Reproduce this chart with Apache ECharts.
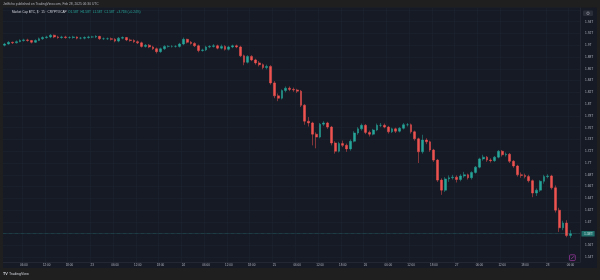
<!DOCTYPE html>
<html>
<head>
<meta charset="utf-8">
<title>Market Cap BTC</title>
<script src="https://cdn.jsdelivr.net/npm/echarts@6/dist/echarts.min.js"></script>
<style>
    html, body { margin: 0; padding: 0; background: #1f1f1f; }
    #main { width: 600px; height: 280px; }
</style>
</head>
<body>
<div id="main"></div>
<script>
// 1h candles, Feb 22 01:00 UTC -> Feb 28 06:00 UTC, values in billions USD
var startTime = Date.UTC(2025, 1, 22, 1);
var firstOpen = 1900;

var closes = [
    1902, 1905, 1904, 1906, 1908, 1909, 1908, 1905, 1908, 1911,
    1913, 1914, 1917, 1914, 1913, 1914, 1913, 1913, 1914, 1912,
    1912, 1913, 1914, 1914, 1915, 1911, 1911, 1911, 1910, 1907,
    1912, 1913, 1909, 1908, 1906, 1904, 1898, 1900, 1897, 1894,
    1889, 1894, 1898, 1898, 1898, 1898, 1902, 1910, 1905, 1903,
    1899, 1891, 1892, 1897, 1898, 1899, 1895, 1898, 1893, 1897,
    1899, 1897, 1882, 1871, 1881, 1875, 1870, 1867, 1862, 1864,
    1836, 1814, 1810, 1823, 1827, 1825, 1824, 1822, 1798, 1771,
    1768, 1749, 1744, 1766, 1768, 1761, 1734, 1720, 1733, 1730,
    1724, 1737, 1751, 1758, 1764, 1752, 1749, 1756, 1764, 1764,
    1761, 1753, 1758, 1754, 1759, 1765, 1765, 1753, 1741, 1719,
    1739, 1736, 1722, 1705, 1671, 1654, 1673, 1675, 1676, 1672,
    1678, 1680, 1675, 1684, 1693, 1707, 1710, 1705, 1704, 1710,
    1720, 1714, 1715, 1703, 1695, 1680, 1679, 1677, 1670, 1649,
    1654, 1669, 1677, 1678, 1658, 1620, 1590, 1598, 1577, 1580
];
var highs = [
    1904, 1907, 1906, 1908, 1910, 1911, 1911, 1909, 1910, 1913,
    1915, 1916, 1919, 1918, 1916, 1916, 1916, 1915, 1916, 1915,
    1914, 1915, 1916, 1916, 1917, 1916, 1913, 1913, 1913, 1912,
    1914, 1915, 1914, 1911, 1910, 1908, 1906, 1902, 1902, 1899,
    1896, 1896, 1900, 1900, 1900, 1900, 1904, 1913, 1911, 1907,
    1905, 1901, 1894, 1899, 1900, 1902, 1901, 1901, 1900, 1899,
    1901, 1901, 1899, 1884, 1883, 1883, 1877, 1873, 1869, 1867,
    1866, 1839, 1818, 1825, 1830, 1830, 1828, 1826, 1824, 1800,
    1778, 1770, 1752, 1768, 1771, 1770, 1763, 1737, 1736, 1738,
    1733, 1740, 1754, 1761, 1767, 1766, 1755, 1758, 1767, 1768,
    1767, 1763, 1760, 1760, 1761, 1768, 1768, 1767, 1755, 1743,
    1748, 1742, 1738, 1724, 1707, 1674, 1676, 1679, 1680, 1679,
    1681, 1685, 1682, 1686, 1695, 1709, 1714, 1712, 1708, 1712,
    1722, 1722, 1718, 1717, 1705, 1697, 1684, 1682, 1680, 1672,
    1657, 1671, 1680, 1681, 1680, 1662, 1624, 1602, 1603, 1586
];
var lows = [
    1898, 1901, 1902, 1903, 1905, 1906, 1906, 1903, 1904, 1907,
    1909, 1911, 1912, 1912, 1911, 1911, 1911, 1911, 1911, 1910,
    1910, 1910, 1911, 1912, 1912, 1909, 1909, 1909, 1908, 1905,
    1905, 1910, 1907, 1906, 1904, 1902, 1896, 1896, 1895, 1892,
    1886, 1887, 1892, 1896, 1896, 1896, 1896, 1900, 1903, 1901,
    1897, 1888, 1889, 1890, 1895, 1896, 1893, 1893, 1891, 1891,
    1895, 1895, 1880, 1866, 1869, 1873, 1867, 1864, 1859, 1859,
    1833, 1810, 1805, 1808, 1820, 1822, 1821, 1819, 1795, 1765,
    1762, 1730, 1725, 1742, 1763, 1758, 1730, 1716, 1718, 1727,
    1719, 1721, 1735, 1748, 1755, 1749, 1745, 1747, 1754, 1761,
    1759, 1750, 1751, 1751, 1752, 1757, 1762, 1750, 1738, 1700,
    1716, 1732, 1719, 1702, 1668, 1646, 1651, 1668, 1672, 1667,
    1669, 1675, 1672, 1672, 1682, 1691, 1704, 1702, 1701, 1702,
    1708, 1711, 1711, 1700, 1692, 1677, 1675, 1674, 1667, 1642,
    1644, 1651, 1665, 1674, 1655, 1616, 1583, 1586, 1574, 1573
];
var labelHours = 6;    // time labels every 6 hours, day number at 00:00
var emptyBars = 2;     // free space right of the last candle

var upColor = '#26a69a';
var downColor = '#ef5350';
var textColor = '#b2b5be';
var gridColor = '#1f2431';
var frameColor = '#1f1f1f';

// categories (hourly times) and [open, close, low, high]
var categories = [];
for (var i = 0; i < closes.length + emptyBars; i++) {
    categories.push(new Date(startTime + i * 3600000).toISOString().slice(0, 16));
}
var ohlc = [];
var prev = firstOpen;
for (var i = 0; i < closes.length; i++) {
    ohlc.push([prev, closes[i], lows[i], highs[i]]);
    prev = closes[i];
}
var lastClose = closes[closes.length - 1];

function toT(v) {
    var s = (v / 1000).toFixed(2);
    if (s.charAt(s.length - 1) === '0') s = s.slice(0, -1);
    return s + 'T';
}
function isLabelTime(index, value) {
    return parseInt(value.slice(11, 13), 10) % labelHours === 0;
}

var myChart = echarts.init(document.getElementById('main'));
myChart.setOption({
    backgroundColor: '#161a25',
    animation: false,
    grid: { left: 3, right: 20, top: 7.5, bottom: 18 },
    xAxis: {
        type: 'category',
        data: categories,
        boundaryGap: true,
        axisLine: { lineStyle: { color: '#2a2e39', width: 0.6 } },
        axisTick: { show: false },
        axisLabel: {
            interval: isLabelTime,
            color: textColor,
            fontSize: 3,
            margin: 1.8,
            formatter: function (value) {
                var h = value.slice(11, 13);
                if (h === '00') return String(parseInt(value.slice(8, 10), 10));
                return h + ':00';
            }
        },
        splitLine: { show: true, interval: isLabelTime, lineStyle: { color: gridColor, width: 0.6 } }
    },
    yAxis: {
        type: 'value',
        position: 'right',
        scale: true,
        min: 1532,
        max: 1964,
        minInterval: 20,
        maxInterval: 20,
        splitNumber: 21,
        axisLine: { show: true, lineStyle: { color: '#2a2e39', width: 0.6 } },
        axisTick: { show: false },
        axisLabel: {
            color: textColor,
            fontSize: 3.2,
            margin: 5,
            showMinLabel: false,
            showMaxLabel: false,
            formatter: function (v) {
                if (v < 1540 || v > 1940) return '';
                return toT(v);
            }
        },
        splitLine: { lineStyle: { color: gridColor, width: 0.6 } }
    },
    series: [{
        type: 'candlestick',
        data: ohlc,
        barWidth: 2.3,
        itemStyle: {
            color: upColor,
            color0: downColor,
            borderColor: upColor,
            borderColor0: downColor,
            borderWidth: 0.5
        },
        markLine: {
            silent: true,
            symbol: 'none',
            data: [{ yAxis: lastClose }],
            lineStyle: { color: upColor, type: 'dotted', width: 0.6, opacity: 0.6 },
            label: {
                show: true,
                position: 'end',
                distance: 1.5,
                formatter: function () { return toT(lastClose); },
                color: '#ffffff',
                fontSize: 3.2,
                backgroundColor: upColor,
                padding: [1.2, 2.5],
                borderRadius: 0.5
            }
        }
    }],
    graphic: [
        // snapshot frame
        { type: 'rect', z: 100, shape: { x: 0, y: 0, width: 600, height: 7.5 }, style: { fill: frameColor } },
        { type: 'rect', z: 100, shape: { x: 0, y: 268, width: 600, height: 12 }, style: { fill: frameColor } },
        { type: 'rect', z: 100, shape: { x: 0, y: 0, width: 3, height: 280 }, style: { fill: frameColor } },
        { type: 'rect', z: 100, shape: { x: 597, y: 0, width: 3, height: 280 }, style: { fill: frameColor } },
        {
            type: 'text', z: 101,
            style: { text: 'JetEcho published on TradingView.com, Feb 28, 2025 06:30 UTC', x: 3, y: 3.8, fill: textColor, fontSize: 3.3, verticalAlign: 'middle' }
        },
        {
            type: 'text', z: 101,
            style: { text: 'Market Cap BTC, $ · 15 · CRYPTOCAP', x: 12, y: 12.6, fill: '#d1d4dc', fontSize: 3.1, verticalAlign: 'middle' }
        },
        {
            type: 'text', z: 101,
            style: { text: 'O1.58T  H1.58T  L1.58T  C1.58T  +3.71B (+0.24%)', x: 68, y: 12.6, fill: upColor, fontSize: 3.2, verticalAlign: 'middle' }
        },
        {
            type: 'text', z: 101,
            style: { text: 'TV', x: 3, y: 274.3, fill: '#d1d4dc', fontSize: 3.8, fontWeight: 'bold', verticalAlign: 'middle' }
        },
        {
            type: 'text', z: 101,
            style: { text: 'TradingView', x: 9, y: 274.3, fill: '#d1d4dc', fontSize: 3.6, verticalAlign: 'middle' }
        },
        // small icons
        { type: 'rect', z: 101, shape: { x: 583, y: 10.5, width: 10, height: 5.5, r: 1 }, style: { fill: '#2a2e39' } },
        { type: 'circle', z: 102, shape: { cx: 588, cy: 13.25, r: 1.3 }, style: { fill: 'none', stroke: textColor, lineWidth: 0.5 } },
        { type: 'rect', z: 101, shape: { x: 569.5, y: 254.8, width: 5.8, height: 5.8, r: 1 }, style: { fill: 'none', stroke: '#a23aa6', lineWidth: 0.7 } },
        { type: 'line', z: 101, shape: { x1: 571, y1: 259.2, x2: 574, y2: 256.2 }, style: { stroke: '#c04bc4', lineWidth: 0.6 } }
    ]
});
</script>
</body>
</html>
